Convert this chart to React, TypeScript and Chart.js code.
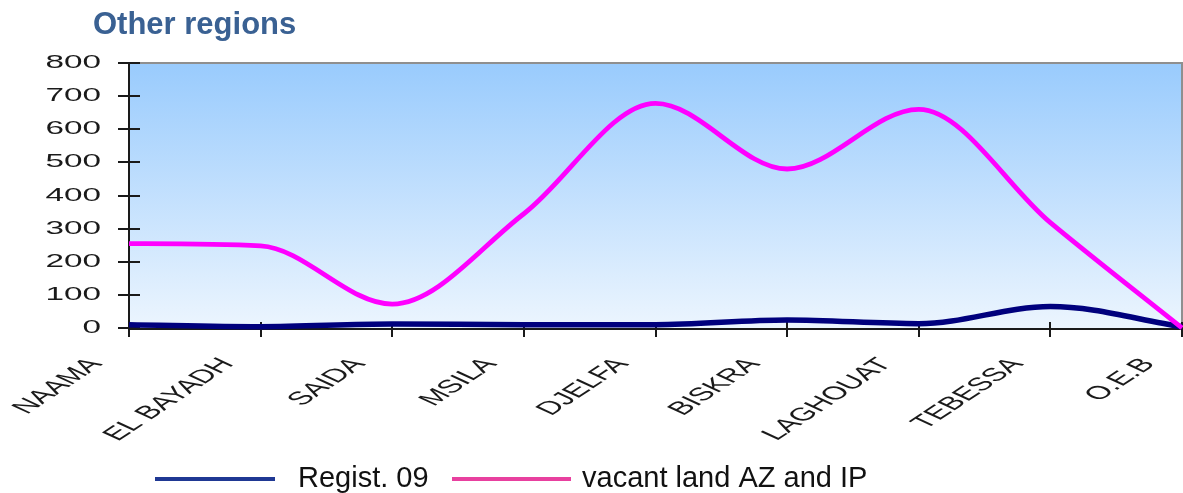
import React, { useEffect, useRef } from "react";
import { Chart, registerables } from "chart.js";

Chart.register(...registerables);

// Wilayas along the x axis
const categories = [
  "NAAMA",
  "EL BAYADH",
  "SAIDA",
  "MSILA",
  "DJELFA",
  "BISKRA",
  "LAGHOUAT",
  "TEBESSA",
  "O.E.B",
];

// Series values per wilaya
const regist09 = [10, 4, 12, 10, 10, 24, 13, 65, 4];
const vacantLand = [255, 248, 72, 345, 678, 480, 660, 318, 0];

// Value axis
const yTickValues = [0, 100, 200, 300, 400, 500, 600, 700, 800];

const titleText = "Other regions";
const seriesNames = ["Regist. 09", "vacant land AZ and IP"];

const FONT = '"Liberation Sans", Arial, sans-serif';
const STRETCH = 1.8; // horizontal widening of axis label glyphs
const LABEL_ANGLE = (50 * Math.PI) / 180;

const decorPlugin = {
  id: "decor",
  beforeDatasetsDraw(chart: any) {
    const { ctx, chartArea: a, scales } = chart;
    const xs = scales.x;
    const ys = scales.y;
    ctx.save();

    // plot background gradient
    const g = ctx.createLinearGradient(0, a.top, 0, a.bottom);
    g.addColorStop(0, "#99cbfd");
    g.addColorStop(1, "#ecf5fe");
    ctx.fillStyle = g;
    ctx.fillRect(a.left, a.top, a.right - a.left, a.bottom - a.top);

    // top and right frame
    ctx.strokeStyle = "#8f8f8f";
    ctx.lineWidth = 2;
    ctx.beginPath();
    ctx.moveTo(a.left, a.top);
    ctx.lineTo(a.right, a.top);
    ctx.lineTo(a.right, a.bottom);
    ctx.stroke();

    // axis lines
    ctx.strokeStyle = "#1a1a1a";
    ctx.beginPath();
    ctx.moveTo(a.left, a.top);
    ctx.lineTo(a.left, a.bottom + 1);
    ctx.moveTo(a.left, a.bottom + 1);
    ctx.lineTo(a.right, a.bottom + 1);
    ctx.stroke();

    // crossing tick marks on the value axis
    ctx.beginPath();
    yTickValues.forEach((v) => {
      const y = Math.round(ys.getPixelForValue(v));
      ctx.moveTo(a.left - 11, y);
      ctx.lineTo(a.left + 11, y);
    });
    // category tick marks
    categories.forEach((_, i) => {
      const x = Math.round(xs.getPixelForValue(i));
      ctx.moveTo(x, a.bottom - 6);
      ctx.lineTo(x, a.bottom + 9);
    });
    ctx.stroke();

    // value axis labels
    ctx.fillStyle = "#1a1a1a";
    ctx.font = `18.5px ${FONT}`;
    ctx.textAlign = "right";
    ctx.textBaseline = "middle";
    yTickValues.forEach((v) => {
      const y = ys.getPixelForValue(v);
      ctx.save();
      ctx.translate(a.left - 28, y);
      ctx.scale(STRETCH, 1);
      ctx.fillText(String(v), 0, 0);
      ctx.restore();
    });

    // category labels, slanted
    categories.forEach((c, i) => {
      const x = xs.getPixelForValue(i);
      ctx.save();
      ctx.translate(x - 33, a.bottom + 33);
      ctx.scale(STRETCH, 1);
      ctx.rotate(-LABEL_ANGLE);
      ctx.fillText(c, 0, 0);
      ctx.restore();
    });

    // title
    ctx.textAlign = "left";
    ctx.textBaseline = "alphabetic";
    ctx.fillStyle = "#3a6193";
    ctx.font = `bold 31px ${FONT}`;
    ctx.fillText(titleText, 93, 34);

    // legend
    const legend = [
      { x0: 155, x1: 275, tx: 298, color: "#1f3893" },
      { x0: 452, x1: 571, tx: 582, color: "#e8409f" },
    ];
    ctx.font = `29px ${FONT}`;
    legend.forEach((l, i) => {
      ctx.strokeStyle = l.color;
      ctx.lineWidth = 4;
      ctx.beginPath();
      ctx.moveTo(l.x0, 479);
      ctx.lineTo(l.x1, 479);
      ctx.stroke();
      ctx.fillStyle = "#111111";
      ctx.fillText(seriesNames[i], l.tx, 487);
    });

    ctx.restore();
  },
};

export default function App() {
  const canvasRef = useRef<HTMLCanvasElement | null>(null);

  useEffect(() => {
    const canvas = canvasRef.current;
    if (!canvas) return;
    const chart = new Chart(canvas, {
      type: "line",
      data: {
        labels: categories,
        datasets: [
          {
            label: seriesNames[0],
            data: regist09,
            borderColor: "#00007d",
            borderWidth: 5.5,
            pointRadius: 0,
            cubicInterpolationMode: "monotone",
            fill: false,
            clip: false,
            order: 1,
          },
          {
            label: seriesNames[1],
            data: vacantLand,
            borderColor: "#ff00ff",
            borderWidth: 4.8,
            pointRadius: 0,
            cubicInterpolationMode: "monotone",
            fill: false,
            clip: false,
            order: 0,
          },
        ],
      },
      options: {
        responsive: false,
        animation: false,
        layout: { padding: { top: 63, right: 1, left: 0, bottom: 0 } },
        plugins: {
          legend: { display: false },
          title: { display: false },
          tooltip: { enabled: false },
        },
        scales: {
          x: {
            type: "category",
            offset: false,
            grid: { display: false },
            border: { display: false },
            ticks: { display: false },
            afterFit: (s: any) => {
              s.height = 165;
            },
          },
          y: {
            min: 0,
            max: 800,
            ticks: { display: false, stepSize: 100 },
            grid: { display: false },
            border: { display: false },
            afterFit: (s: any) => {
              s.width = 129;
            },
          },
        },
      },
      plugins: [decorPlugin],
    });
    return () => chart.destroy();
  }, []);

  return (
    <div style={{ position: "absolute", left: 0, top: 0, width: 1183, height: 493, background: "#ffffff" }}>
      <canvas ref={canvasRef} width={1183} height={493} style={{ display: "block" }} />
    </div>
  );
}
